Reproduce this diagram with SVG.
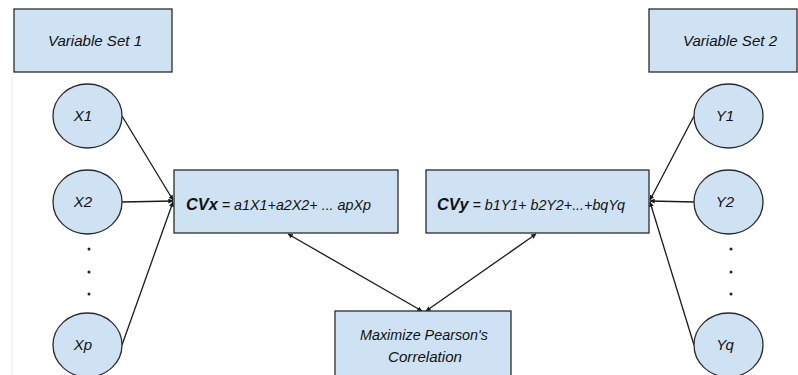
<svg xmlns="http://www.w3.org/2000/svg" width="798" height="375" viewBox="0 0 798 375">
  <defs>
    <style>
      .box { fill: #cfe2f3; stroke: #2b2b2b; stroke-width: 1.3; }
      .node { fill: #cfe2f3; stroke: #2b2b2b; stroke-width: 1.3; }
      .lbl { font-family: "Liberation Sans", "DejaVu Sans", sans-serif; font-style: italic; font-size: 15px; fill: #111111; }
      .eq { font-family: "Liberation Sans", "DejaVu Sans", sans-serif; font-style: italic; font-size: 14px; fill: #111111; }
      .edge { stroke: #1a1a1a; stroke-width: 1.3; fill: none; marker-end: url(#tip); }
      .dot { fill: #222222; }
    </style>
    <marker id="tip" viewBox="0 0 8 8" refX="7.5" refY="4" markerWidth="5" markerHeight="5" orient="auto-start-reverse" markerUnits="userSpaceOnUse">
      <path d="M0,0 L8,4 L0,8 Z" fill="#1a1a1a"/>
    </marker>
  </defs>

  <rect width="798" height="375" fill="#ffffff"/>
  <line x1="12" y1="76" x2="12" y2="375" stroke="#e8e8e8" stroke-width="1"/>

  <!-- connectors -->
  <g id="connectors">
    <line class="edge" x1="122" y1="116" x2="173" y2="200"/>
    <line class="edge" x1="122" y1="202" x2="173" y2="201"/>
    <line class="edge" x1="122" y1="345" x2="173" y2="202"/>
    <line class="edge" x1="694" y1="116" x2="650" y2="200"/>
    <line class="edge" x1="694" y1="202" x2="650" y2="201"/>
    <line class="edge" x1="694" y1="345" x2="650" y2="202"/>
    <line class="edge" x1="422" y1="311" x2="288" y2="234" style="marker-start: url(#tip)"/>
    <line class="edge" x1="426" y1="311" x2="536" y2="234" style="marker-start: url(#tip)"/>
  </g>

  <!-- headers -->
  <g id="varset1">
    <rect class="box" x="14" y="9" width="158" height="63"/>
    <text class="lbl" x="95" y="46" text-anchor="middle" textLength="94" lengthAdjust="spacingAndGlyphs">Variable Set 1</text>
  </g>
  <g id="varset2">
    <rect class="box" x="649" y="9" width="148" height="63"/>
    <text class="lbl" x="730" y="46" text-anchor="middle" textLength="94" lengthAdjust="spacingAndGlyphs">Variable Set 2</text>
  </g>

  <!-- X variables -->
  <g id="x1">
    <ellipse class="node" cx="87.5" cy="116" rx="34.5" ry="32"/>
    <text class="lbl" x="83" y="121" text-anchor="middle">X1</text>
  </g>
  <g id="x2">
    <ellipse class="node" cx="87.5" cy="202" rx="34.5" ry="32"/>
    <text class="lbl" x="83" y="207" text-anchor="middle">X2</text>
  </g>
  <g id="xdots">
    <circle class="dot" cx="89" cy="249" r="1.5"/>
    <circle class="dot" cx="89" cy="272" r="1.5"/>
    <circle class="dot" cx="89" cy="294" r="1.5"/>
  </g>
  <g id="xp">
    <ellipse class="node" cx="87.5" cy="345" rx="34.5" ry="32"/>
    <text class="lbl" x="83" y="350" text-anchor="middle">Xp</text>
  </g>

  <!-- Y variables -->
  <g id="y1">
    <ellipse class="node" cx="728.5" cy="116" rx="34.5" ry="32"/>
    <text class="lbl" x="725" y="121" text-anchor="middle">Y1</text>
  </g>
  <g id="y2">
    <ellipse class="node" cx="728.5" cy="202" rx="34.5" ry="32"/>
    <text class="lbl" x="725" y="207" text-anchor="middle">Y2</text>
  </g>
  <g id="ydots">
    <circle class="dot" cx="731" cy="249" r="1.5"/>
    <circle class="dot" cx="731" cy="272" r="1.5"/>
    <circle class="dot" cx="731" cy="294" r="1.5"/>
  </g>
  <g id="yq">
    <ellipse class="node" cx="728.5" cy="345" rx="34.5" ry="32"/>
    <text class="lbl" x="725" y="350" text-anchor="middle">Yq</text>
  </g>

  <!-- canonical variates -->
  <g id="cvx">
    <rect class="box" x="174" y="170" width="224" height="63"/>
    <text class="eq" x="186" y="210" textLength="185" lengthAdjust="spacingAndGlyphs"><tspan font-weight="bold" font-size="16">CVx</tspan> = a1X1+a2X2+ ... apXp</text>
  </g>
  <g id="cvy">
    <rect class="box" x="426" y="170" width="223" height="63"/>
    <text class="eq" x="437" y="210" textLength="188" lengthAdjust="spacingAndGlyphs"><tspan font-weight="bold" font-size="16">CVy</tspan> = b1Y1+ b2Y2+...+bqYq</text>
  </g>

  <!-- objective -->
  <g id="maximize">
    <rect class="box" x="335" y="311" width="176" height="70"/>
    <text class="lbl" x="424" y="340" text-anchor="middle" textLength="128" lengthAdjust="spacingAndGlyphs">Maximize Pearson's</text>
    <text class="lbl" x="425" y="362" text-anchor="middle" textLength="74" lengthAdjust="spacingAndGlyphs">Correlation</text>
  </g>
</svg>
